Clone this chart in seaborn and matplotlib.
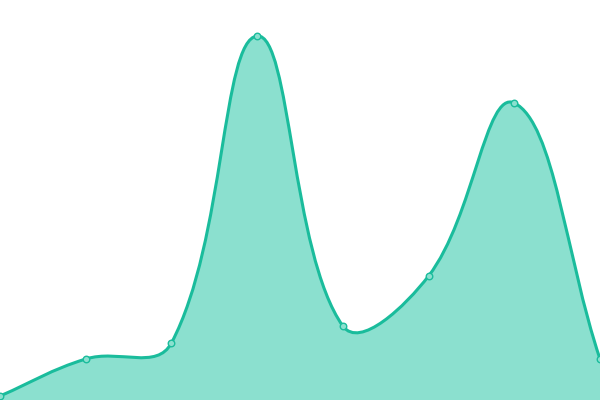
import numpy as np
import seaborn as sns
import matplotlib
matplotlib.use("Agg")
import matplotlib.pyplot as plt
from matplotlib.path import Path
from matplotlib.patches import PathPatch

# values (0 = bottom edge, 400 = top edge)
labels = ["A", "B", "C", "D", "E", "F", "G", "H"]
values = [4, 41, 57, 364, 74, 124, 297, 41]

LINE = "#1abc9c"
FILL = "#8be0cf"
TENSION = 0.4


def spline_path(xs, ys, sx, sy):
    # cardinal-style bezier control points, computed in pixel space
    px = np.asarray(xs, float) * sx
    py = np.asarray(ys, float) * sy
    n = len(px)
    cps = []
    for i in range(n):
        pv = (px[max(i - 1, 0)], py[max(i - 1, 0)])
        cu = (px[i], py[i])
        nx = (px[min(i + 1, n - 1)], py[min(i + 1, n - 1)])
        d01 = np.hypot(cu[0] - pv[0], cu[1] - pv[1])
        d12 = np.hypot(nx[0] - cu[0], nx[1] - cu[1])
        s01 = d01 / (d01 + d12) if d01 + d12 else 0
        s12 = d12 / (d01 + d12) if d01 + d12 else 0
        fa, fb = TENSION * s01, TENSION * s12
        c1 = (cu[0] - fa * (nx[0] - pv[0]), cu[1] - fa * (nx[1] - pv[1]))
        c2 = (cu[0] + fb * (nx[0] - pv[0]), cu[1] + fb * (nx[1] - pv[1]))
        cps.append((c1, c2))
    verts = [(px[0] / sx, py[0] / sy)]
    codes = [Path.MOVETO]
    for i in range(n - 1):
        a = cps[i][1]
        b = cps[i + 1][0]
        verts += [(a[0] / sx, a[1] / sy), (b[0] / sx, b[1] / sy), (px[i + 1] / sx, py[i + 1] / sy)]
        codes += [Path.CURVE4] * 3
    return verts, codes


def display_plot():
    sns.set_style("white")
    fig = plt.figure(figsize=(6, 4), dpi=100)
    ax = fig.add_axes([0, 0, 1, 1])

    x = np.arange(len(values))
    ax.set_xlim(0, len(values) - 1)
    ax.set_ylim(0, 400)
    sx = 600 / (len(values) - 1)
    sy = 400 / 400

    verts, codes = spline_path(x, values, sx, sy)
    fill_verts = verts + [(x[-1], 0), (x[0], 0), verts[0]]
    fill_codes = codes + [Path.LINETO, Path.LINETO, Path.CLOSEPOLY]
    ax.add_patch(PathPatch(Path(fill_verts, fill_codes), facecolor=FILL, edgecolor="none", zorder=1))
    ax.add_patch(PathPatch(Path(verts, codes), facecolor="none", edgecolor=LINE, lw=2.2, zorder=2))

    sns.scatterplot(x=x, y=values, ax=ax, s=22, color=FILL, edgecolor=LINE, linewidth=1.0, zorder=3)

    ax.set_axis_off()
    plt.savefig("out.png", dpi=100)


if __name__ == '__main__':
    display_plot()
